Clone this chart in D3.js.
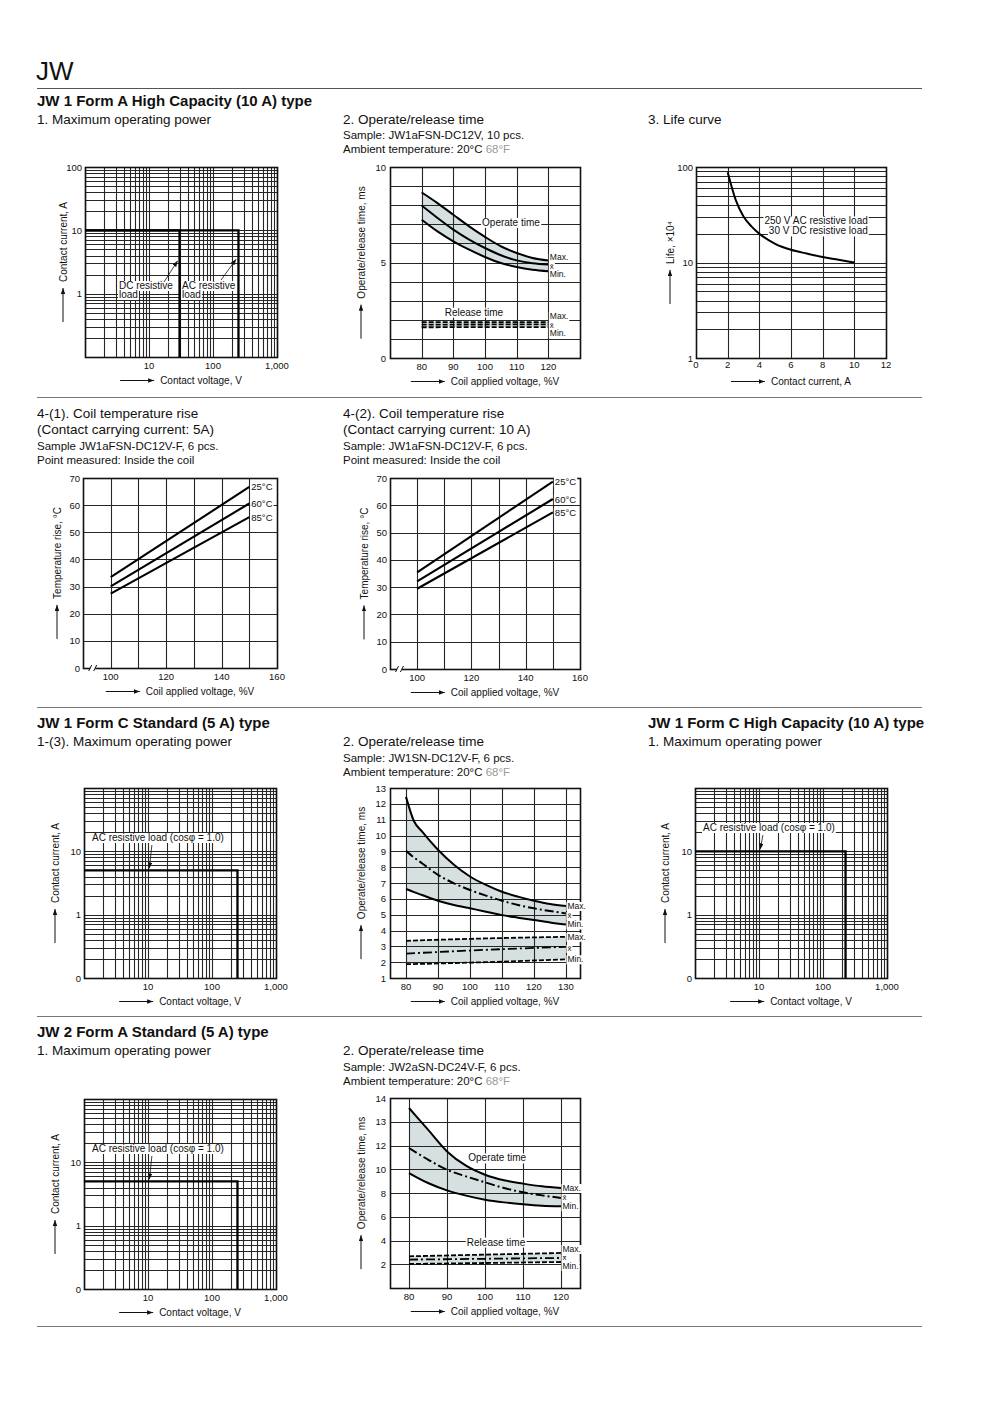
<!DOCTYPE html>
<html>
<head>
<meta charset="utf-8">
<script src="https://cdn.jsdelivr.net/npm/d3@7"></script>
<style>
  body { margin: 0; background: #fff; }
  svg text { font-family: 'Liberation Sans', Arial, Helvetica, sans-serif; fill: #111; }
</style>
</head>
<body>
<div id="page"></div>
<script>
(function (d3) {
    'use strict';

    // ---------- data ----------
    // maximum operating power: corners of each load limit [contact voltage V, contact current A]
    var jw1aDcLoad = [[1, 10], [30, 10], [30, 0.1]];
    var jw1aAcLoad = [[1, 10], [250, 10], [250, 0.1]];
    var jw1cStdAcLoad = [[1, 5], [250, 5], [250, 0.1]];
    var jw1cHcAcLoad = [[1, 10], [225, 10], [225, 0.1]];
    var jw2aAcLoad = [[1, 5], [250, 5], [250, 0.1]];
    var powerXTicks = [10, 100, 1000];
    var powerXLabels = ["10", "100", "1,000"];

    // operate/release time, JW1aFSN-DC12V
    var opVoltsA = [80, 85, 90, 95, 100, 105, 110, 115, 120];
    var opMaxA = [8.67, 8.11, 7.50, 6.89, 6.34, 5.85, 5.50, 5.24, 5.11];
    var opMeanA = [7.98, 7.33, 6.72, 6.20, 5.76, 5.38, 5.11, 4.96, 4.89];
    var opMinA = [7.24, 6.63, 6.11, 5.67, 5.29, 4.97, 4.76, 4.62, 4.54];
    var relVoltsA = [80, 120];
    var relMaxA = [1.88, 1.88];
    var relMeanA = [1.75, 1.76];
    var relMinA = [1.61, 1.62];

    // operate/release time, JW1SN-DC12V-F
    var opVoltsC = [80, 82.5, 85, 90, 95, 100, 105, 110, 115, 120, 125, 130];
    var opMaxC = [12.44, 10.9, 10.26, 9.10, 8.15, 7.41, 6.88, 6.45, 6.14, 5.88, 5.67, 5.55];
    var opMeanC = [9.03, 8.61, 8.25, 7.51, 6.98, 6.56, 6.20, 5.88, 5.61, 5.40, 5.23, 5.08];
    var opMinC = [6.62, 6.42, 6.24, 5.88, 5.61, 5.40, 5.19, 4.97, 4.81, 4.66, 4.51, 4.38];
    var relVoltsC = [80, 105, 130];
    var relMaxC = [3.35, 3.50, 3.60];
    var relMeanC = [2.54, 2.78, 2.97];
    var relMinC = [1.87, 2.00, 2.18];

    // operate/release time, JW2aSN-DC24V-F (sheet labels its axis 2..12, 13, 14)
    var opVolts2 = [80, 85, 90, 95, 100, 105, 110, 115, 120];
    var opMax2 = [15.16, 13.33, 11.5, 10.3, 9.54, 9.07, 8.79, 8.56, 8.42];
    var opMean2 = [11.79, 10.81, 9.96, 9.40, 8.90, 8.42, 8.06, 7.80, 7.58];
    var opMin2 = [9.68, 8.84, 8.22, 7.78, 7.44, 7.21, 7.05, 6.93, 6.88];
    var relVolts2 = [80, 120];
    var relMax2 = [2.67, 2.95];
    var relMean2 = [2.39, 2.53];
    var relMin2 = [2.02, 2.19];
    var op2YTicks = [2, 4, 6, 8, 10, 12, 14, 16];
    var op2YLabels = ["2", "4", "6", "8", "10", "12", "13", "14"];

    // life curve (x10^4 operations vs contact current)
    var lifeCurrent = [2, 2.5, 3, 3.5, 4, 5, 6, 7, 8, 9, 10];
    var lifeOps = [88, 45.5, 30.4, 23.9, 20, 15.7, 13.6, 12.4, 11.4, 10.7, 10];

    // coil temperature rise, ends of each line at 100 and 150 %V
    var coilVolts = [100, 150];
    var coil5A = { "25°C": [33.5, 66.7], "60°C": [30.1, 60.6], "85°C": [27.4, 55.6] };
    var coil10A = { "25°C": [35.4, 68.7], "60°C": [32.1, 62.3], "85°C": [29.4, 57.4] };

    // ---------- page ----------
    var W = 1000, H = 1415;
    var svg = d3.select("#page").append("svg").attr("width", W).attr("height", H);
    svg.append("rect").attr("width", W).attr("height", H).attr("fill", "#fff");

    var defs = svg.append("defs");
    defs.append("marker").attr("id", "arrow")
        .attr("viewBox", "0 0 8 6").attr("refX", 8).attr("refY", 3)
        .attr("markerWidth", 6).attr("markerHeight", 4.5)
        .attr("markerUnits", "userSpaceOnUse").attr("orient", "auto")
        .append("path").attr("d", "M0,0L8,3L0,6Z").attr("fill", "#111");

    var GRID = "#262626";
    var BAND = "#d6e0e0";

    function px(v) { return Math.round(v) + 0.5; }

    function addText(g, x, y, s, size, weight, anchor) {
        return g.append("text").attr("x", x).attr("y", y)
            .attr("font-size", size)
            .attr("font-weight", weight || "normal")
            .attr("text-anchor", anchor || "start")
            .text(s);
    }

    // text on a white patch so the grid does not run through it
    function boxed(g, x, y, s, size, anchor) {
        var t = addText(g, x, y, s, size, null, anchor);
        var b = t.node().getBBox();
        g.insert("rect", function () { return t.node(); })
            .attr("x", b.x - 1).attr("y", b.y + 1)
            .attr("width", b.width + 2).attr("height", b.height - 1)
            .attr("fill", "#fff");
        return t;
    }

    function xTitle(g, cx, y, s) {
        var t = g.append("text").attr("y", y).attr("font-size", 10).text(s);
        var tw = t.node().getComputedTextLength();
        var x0 = cx - (34 + 6 + tw) / 2;
        g.append("line")
            .attr("x1", x0).attr("x2", x0 + 34)
            .attr("y1", y - 3.5).attr("y2", y - 3.5)
            .attr("stroke", "#111").attr("stroke-width", 1)
            .attr("marker-end", "url(#arrow)");
        t.attr("x", x0 + 40);
    }

    function yTitle(g, x, cy, s) {
        var r = g.append("g").attr("transform", "translate(" + x + "," + cy + ") rotate(-90)");
        xTitle(r, 0, 3.5, s);
    }

    function hline(g, y, x1, x2, color) {
        g.append("line").attr("x1", x1).attr("x2", x2).attr("y1", y).attr("y2", y)
            .attr("stroke", color || "#777").attr("stroke-width", 1);
    }

    function frame(g, left, top, w, h) {
        g.append("rect").attr("x", px(left)).attr("y", px(top))
            .attr("width", Math.round(w)).attr("height", Math.round(h))
            .attr("fill", "none").attr("stroke", "#111").attr("stroke-width", 1.6);
    }

    function vGrid(g, x, vals, y0, y1, color) {
        g.selectAll(null).data(vals).enter().append("line")
            .attr("x1", function (d) { return px(x(d)); })
            .attr("x2", function (d) { return px(x(d)); })
            .attr("y1", y0).attr("y2", y1)
            .attr("stroke", color || GRID).attr("stroke-width", 1.1);
    }

    function hGrid(g, y, vals, x0, x1, color) {
        g.selectAll(null).data(vals).enter().append("line")
            .attr("y1", function (d) { return px(y(d)); })
            .attr("y2", function (d) { return px(y(d)); })
            .attr("x1", x0).attr("x2", x1)
            .attr("stroke", color || GRID).attr("stroke-width", 1.1);
    }

    function logSteps(a, b) {
        var out = [];
        for (var d = a; d < b * 0.99; d *= 10) {
            for (var k = 1; k < 10; k++) out.push(d * k);
        }
        out.push(b);
        return out;
    }

    function zip(xs, ys) {
        return xs.map(function (v, i) { return [v, ys[i]]; });
    }

    // ---------- maximum operating power ----------
    function powerChart(o) {
        var g = svg.append("g");
        var w = 192, h = 190;
        var x = d3.scaleLog().domain([1, 1000]).range([o.left, o.left + w]);
        var y = d3.scaleLog().domain([0.1, 100]).range([o.top + h, o.top]);

        vGrid(g, x, logSteps(1, 1000), o.top, o.top + h);
        hGrid(g, y, logSteps(0.1, 100), o.left, o.left + w);
        frame(g, o.left, o.top, w, h);

        var line = d3.line().x(function (d) { return x(d[0]); }).y(function (d) { return y(d[1]); });
        o.limits.forEach(function (L) {
            g.append("path").datum(L).attr("d", line)
                .attr("fill", "none").attr("stroke", "#000").attr("stroke-width", 2.3);
        });

        powerXTicks.forEach(function (t, i) {
            addText(g, x(t), o.top + h + 12, powerXLabels[i], 9.5, null, "middle");
        });
        o.yTicks.forEach(function (t, i) {
            addText(g, o.left - 3, y(t) + 3.5, o.yLabels[i], 9.5, null, "end");
        });

        xTitle(g, o.left + w / 2, o.top + h + 27, "Contact voltage, V");
        yTitle(g, o.left - o.titleOff, o.top + h / 2, "Contact current, A");
        return { g: g, x: x, y: y };
    }

    function leader(g, x1, y1, x2, y2) {
        g.append("line").attr("x1", x1).attr("y1", y1).attr("x2", x2).attr("y2", y2)
            .attr("stroke", "#111").attr("stroke-width", 0.8)
            .attr("marker-end", "url(#arrow)");
    }

    // ---------- operate / release time ----------
    function opChart(o) {
        var g = svg.append("g");
        var w = 190, h = o.h;
        var x = d3.scaleLinear().domain(o.xDomain).range([o.left, o.left + w]);
        var y = d3.scaleLinear().domain(o.yDomain).range([o.top + h, o.top]);

        var opMax = zip(o.volts, o.max), opMin = zip(o.volts, o.min), opMean = zip(o.volts, o.mean);
        var rMax = zip(o.relVolts, o.relMax), rMin = zip(o.relVolts, o.relMin), rMean = zip(o.relVolts, o.relMean);

        var band = d3.area().curve(d3.curveMonotoneX)
            .x(function (d) { return x(d[0]); })
            .y0(function (d) { return y(d[1]); })
            .y1(function (d) { return y(d[2]); });
        g.append("path")
            .datum(o.volts.map(function (v, i) { return [v, o.min[i], o.max[i]]; }))
            .attr("d", band).attr("fill", BAND);
        g.append("path")
            .datum(o.relVolts.map(function (v, i) { return [v, o.relMin[i], o.relMax[i]]; }))
            .attr("d", band).attr("fill", BAND);

        vGrid(g, x, o.xGrid, o.top, o.top + h);
        hGrid(g, y, o.yGrid, o.left, o.left + w);
        frame(g, o.left, o.top, w, h);

        var line = d3.line().curve(d3.curveMonotoneX)
            .x(function (d) { return x(d[0]); }).y(function (d) { return y(d[1]); });
        function curve(data, dash, width) {
            g.append("path").datum(data).attr("d", line)
                .attr("fill", "none").attr("stroke", "#000")
                .attr("stroke-width", width || 2)
                .attr("stroke-dasharray", dash || null);
        }
        curve(opMax); curve(opMin); curve(opMean, o.meanDash);
        curve(rMax, "5,2", 1.8); curve(rMin, "5,2", 1.8); curve(rMean, o.relMeanDash || "5,2", 1.8);

        (o.notes || []).forEach(function (n) {
            boxed(g, x(n.x), y(n.y) + 3.5, n.t, 10, "middle");
        });

        // Max. / x̄ / Min. beside the curve ends
        function endLabels(maxV, minV, lastV) {
            var yMax = y(maxV), yMin = y(minV), mid = (yMax + yMin) / 2;
            var lx = x(lastV) + 1.5;
            boxed(g, lx, Math.min(yMax, mid - 8.5) + 3, "Max.", 8.5);
            boxed(g, lx, mid + 3, "x\u0304", 8);
            boxed(g, lx, Math.max(yMin, mid + 8.5) + 3, "Min.", 8.5);
        }
        endLabels(o.max[o.max.length - 1], o.min[o.min.length - 1], o.volts[o.volts.length - 1]);
        endLabels(o.relMax[o.relMax.length - 1], o.relMin[o.relMin.length - 1], o.relVolts[o.relVolts.length - 1]);

        o.xGrid.forEach(function (t) { addText(g, x(t), o.top + h + 12, String(t), 9.5, null, "middle"); });
        o.yTicks.forEach(function (t, i) {
            addText(g, o.left - 4, y(t) + 3.5, o.yLabels ? o.yLabels[i] : String(t), 9.5, null, "end");
        });

        xTitle(g, o.left + w / 2, o.top + h + 27, "Coil applied voltage, %V");
        yTitle(g, o.left - 29, o.top + h / 2, "Operate/release time, ms");
    }

    // ---------- life curve ----------
    function lifeChart(left, top) {
        var g = svg.append("g");
        var w = 190, h = 191;
        var x = d3.scaleLinear().domain([0, 12]).range([left, left + w]);
        var y = d3.scaleLog().domain([1, 100]).range([top + h, top]);

        vGrid(g, x, [2, 4, 6, 8, 10], top, top + h);
        hGrid(g, y, logSteps(1, 100), left, left + w);
        frame(g, left, top, w, h);

        g.append("path").datum(zip(lifeCurrent, lifeOps))
            .attr("d", d3.line().curve(d3.curveMonotoneX)
                .x(function (d) { return x(d[0]); }).y(function (d) { return y(d[1]); }))
            .attr("fill", "none").attr("stroke", "#000").attr("stroke-width", 2);

        boxed(g, x(10.85), y(27.2) + 3.5, "250 V AC resistive load", 10, "end");
        boxed(g, x(10.85), y(21.4) + 3.5, "30 V DC resistive load", 10, "end");

        [0, 2, 4, 6, 8, 10, 12].forEach(function (t) {
            addText(g, x(t), top + h + 10, String(t), 9.5, null, "middle");
        });
        [1, 10, 100].forEach(function (t) {
            addText(g, left - 3, y(t) + 3.5, String(t), 9.5, null, "end");
        });
        xTitle(g, left + w / 2, top + h + 27, "Contact current, A");
        yTitle(g, left - 26, top + h / 2, "Life, \u00d710\u2074");
    }

    // ---------- coil temperature rise ----------
    function coilChart(left, top, w, h, series) {
        var g = svg.append("g");
        var x = d3.scaleLinear().domain([90, 160]).range([left, left + w]);
        var y = d3.scaleLinear().domain([0, 70]).range([top + h, top]);

        vGrid(g, x, [100, 110, 120, 130, 140, 150], top, top + h);
        hGrid(g, y, [10, 20, 30, 40, 50, 60], left, left + w);
        frame(g, left, top, w, h);

        // axis break near the origin
        g.append("rect").attr("x", x(92.6)).attr("y", top + h - 3).attr("width", x(94.4) - x(92.6)).attr("height", 6)
            .attr("fill", "#fff");
        [92.6, 94.4].forEach(function (v) {
            g.append("line").attr("x1", x(v) - 1.5).attr("x2", x(v) + 1.5)
                .attr("y1", top + h + 3).attr("y2", top + h - 3)
                .attr("stroke", "#111").attr("stroke-width", 1);
        });

        var line = d3.line().x(function (d) { return x(d[0]); }).y(function (d) { return y(d[1]); });
        Object.keys(series).forEach(function (k) {
            var pts = zip(coilVolts, series[k]);
            g.append("path").datum(pts).attr("d", line)
                .attr("fill", "none").attr("stroke", "#000").attr("stroke-width", 2.1);
            boxed(g, x(150) + 2, y(series[k][1]) + 3.5, k, 9.5);
        });

        [100, 120, 140, 160].forEach(function (t) {
            addText(g, x(t), top + h + 12, String(t), 9.5, null, "middle");
        });
        [0, 10, 20, 30, 40, 50, 60, 70].forEach(function (t) {
            addText(g, left - 3, y(t) + 3.5, String(t), 9.5, null, "end");
        });
        xTitle(g, left + w / 2, top + h + 27, "Coil applied voltage, %V");
        yTitle(g, left - 26, top + h / 2, "Temperature rise, \u00b0C");
    }

    // ---------- headings ----------
    var head = svg.append("g");
    addText(head, 36, 80, "JW", 26);
    hline(head, 88.5, 37, 922, "#555");
    hline(head, 397.5, 37, 922, "#777");
    hline(head, 707.5, 37, 922, "#777");
    hline(head, 1016.5, 37, 922, "#777");
    hline(head, 1326.5, 37, 922, "#777");

    function section(x, y, s) { addText(head, x, y, s, 15, "bold"); }
    function sub(x, y, s) { addText(head, x, y, s, 13.5); }
    function small(x, y, s) { addText(head, x, y, s, 11.5); }
    function ambient(x, y) {
        var t = addText(head, x, y, "Ambient temperature: 20\u00b0C ", 11.5);
        t.append("tspan").attr("fill", "#9a9a9a").style("fill", "#9a9a9a").text("68\u00b0F");
    }

    section(37, 106, "JW 1 Form A High Capacity (10 A) type");
    sub(37, 124, "1. Maximum operating power");
    sub(343, 124, "2. Operate/release time");
    small(343, 139, "Sample: JW1aFSN-DC12V, 10 pcs.");
    ambient(343, 153);
    sub(648, 124, "3. Life curve");

    sub(37, 418, "4-(1). Coil temperature rise");
    sub(37, 434, "(Contact carrying current: 5A)");
    small(37, 450, "Sample JW1aFSN-DC12V-F, 6 pcs.");
    small(37, 464, "Point measured: Inside the coil");
    sub(343, 418, "4-(2). Coil temperature rise");
    sub(343, 434, "(Contact carrying current: 10 A)");
    small(343, 450, "Sample: JW1aFSN-DC12V-F, 6 pcs.");
    small(343, 464, "Point measured: Inside the coil");

    section(37, 728, "JW 1 Form C Standard (5 A) type");
    sub(37, 746, "1-(3). Maximum operating power");
    sub(343, 746, "2. Operate/release time");
    small(343, 762, "Sample: JW1SN-DC12V-F, 6 pcs.");
    ambient(343, 776);
    section(648, 728, "JW 1 Form C High Capacity (10 A) type");
    sub(648, 746, "1. Maximum operating power");

    section(37, 1037, "JW 2 Form A Standard (5 A) type");
    sub(37, 1055, "1. Maximum operating power");
    sub(343, 1055, "2. Operate/release time");
    small(343, 1071, "Sample: JW2aSN-DC24V-F, 6 pcs.");
    ambient(343, 1085);

    // ---------- charts ----------
    var p1 = powerChart({ left: 85, top: 167, limits: [jw1aDcLoad, jw1aAcLoad],
        yTicks: [1, 10, 100], yLabels: ["1", "10", "100"], titleOff: 22 });
    boxed(p1.g, 119, 289, "DC resistive", 10);
    boxed(p1.g, 119, 298, "load", 10);
    boxed(p1.g, 182, 289, "AC resistive", 10);
    boxed(p1.g, 182, 298, "load", 10);
    leader(p1.g, 164, 282, p1.x(28), p1.y(3.3));
    leader(p1.g, 221, 280, p1.x(230), p1.y(3.5));

    function acNote(p, left, top, current) {
        var up = current > 6 ? 10 : 0;
        boxed(p.g, left + 8, top + 53 - up, "AC resistive load (cos\u03c6 = 1.0)", 10);
        leader(p.g, p.x(11.5), top + 57 - up, p.x(10.5), p.y(current) - 2);
    }
    var p2 = powerChart({ left: 84, top: 788, limits: [jw1cStdAcLoad],
        yTicks: [0.1, 1, 10], yLabels: ["0", "1", "10"], titleOff: 29 });
    acNote(p2, 84, 788, 5);
    var p3 = powerChart({ left: 695, top: 788, limits: [jw1cHcAcLoad],
        yTicks: [0.1, 1, 10], yLabels: ["0", "1", "10"], titleOff: 30 });
    acNote(p3, 695, 788, 10);
    var p4 = powerChart({ left: 84, top: 1099, limits: [jw2aAcLoad],
        yTicks: [0.1, 1, 10], yLabels: ["0", "1", "10"], titleOff: 29 });
    acNote(p4, 84, 1099, 5);

    opChart({ left: 390, top: 167, h: 191, xDomain: [70, 130], yDomain: [0, 10],
        xGrid: [80, 90, 100, 110, 120], yGrid: [1, 2, 3, 4, 5, 6, 7, 8, 9], yTicks: [0, 5, 10],
        volts: opVoltsA, max: opMaxA, mean: opMeanA, min: opMinA,
        relVolts: relVoltsA, relMax: relMaxA, relMean: relMeanA, relMin: relMinA,
        notes: [{ t: "Operate time", x: 108.2, y: 7.1 }, { t: "Release time", x: 96.5, y: 2.4 }] });

    opChart({ left: 390, top: 788, h: 190, xDomain: [75, 134.4], yDomain: [1, 13],
        xGrid: [80, 90, 100, 110, 120, 130], yGrid: [2, 3, 4, 5, 6, 7, 8, 9, 10, 11, 12],
        yTicks: [1, 2, 3, 4, 5, 6, 7, 8, 9, 10, 11, 12, 13],
        volts: opVoltsC, max: opMaxC, mean: opMeanC, min: opMinC, meanDash: "9,3,2,3",
        relVolts: relVoltsC, relMax: relMaxC, relMean: relMeanC, relMin: relMinC, relMeanDash: "9,3,2,3" });

    opChart({ left: 390, top: 1098, h: 190, xDomain: [75, 125], yDomain: [0, 16],
        xGrid: [80, 90, 100, 110, 120], yGrid: [2, 4, 6, 8, 10, 12, 14],
        yTicks: op2YTicks, yLabels: op2YLabels,
        volts: opVolts2, max: opMax2, mean: opMean2, min: opMin2, meanDash: "9,3,2,3",
        relVolts: relVolts2, relMax: relMax2, relMean: relMean2, relMin: relMin2, relMeanDash: "9,3,2,3",
        notes: [{ t: "Operate time", x: 103.2, y: 10.95 }, { t: "Release time", x: 102.9, y: 3.87 }] });

    lifeChart(696, 167);

    coilChart(83, 478, 194, 190, coil5A);
    coilChart(390, 478, 190, 191, coil10A);
})(window.d3);
</script>
</body>
</html>
